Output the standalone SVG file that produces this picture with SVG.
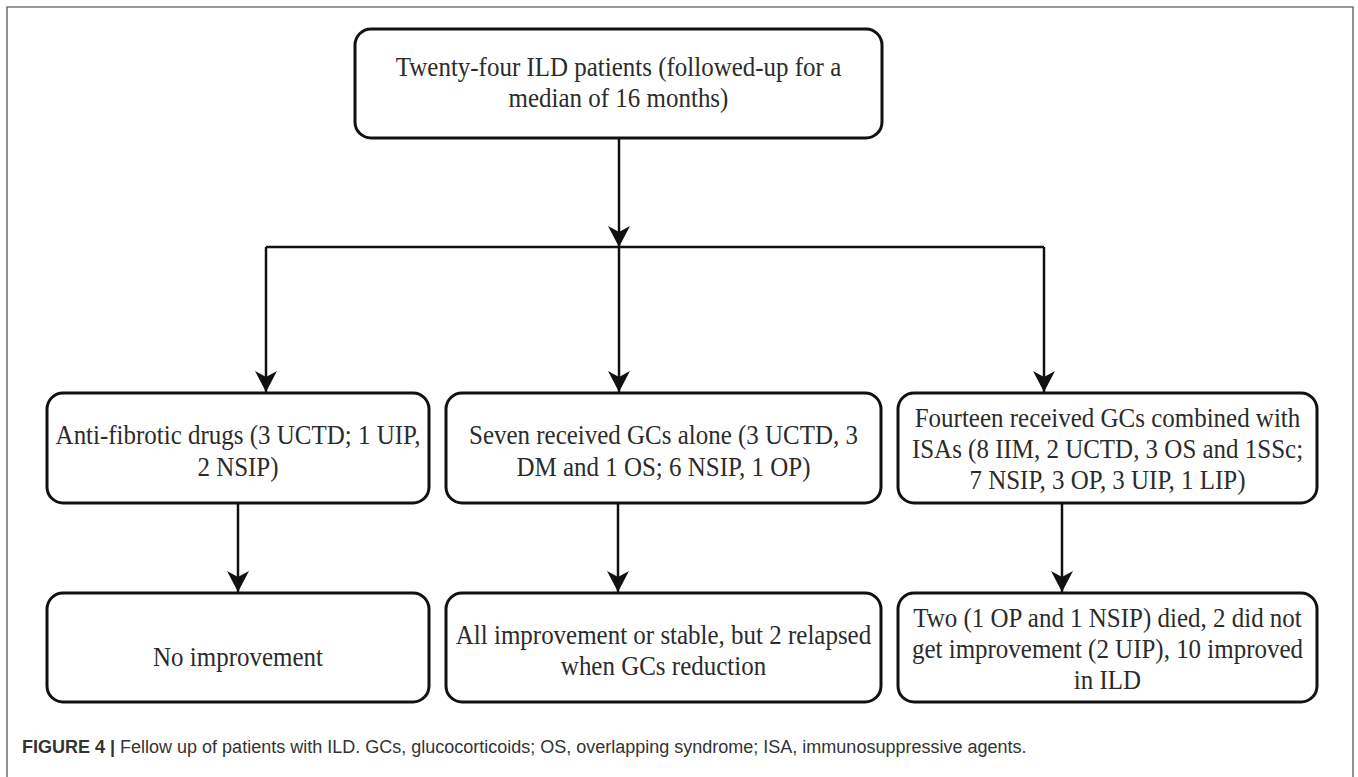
<svg xmlns="http://www.w3.org/2000/svg" width="1358" height="777" viewBox="0 0 1358 777">
<style>
.box{fill:#ffffff;stroke:#111111;stroke-width:3}
.t{font-family:"Liberation Serif","Times New Roman",serif;font-size:27px;fill:#2b2b2b;text-anchor:middle;transform-box:fill-box;transform-origin:center;transform:scaleX(0.925)}
.con{fill:none;stroke:#111111;stroke-width:2.5}
.cap{font-family:"Liberation Sans",Arial,sans-serif;font-size:18px;fill:#333333}
</style>
<defs>
<marker id="ah" viewBox="-21 -12 22 24" markerWidth="22" markerHeight="24" refX="0" refY="0" markerUnits="userSpaceOnUse" orient="auto">
<path d="M0,0 L-21,-11 L-15,0 L-21,11 Z" fill="#111111"/>
</marker>
</defs>
<rect width="1358" height="777" fill="#ffffff"/>
<path d="M7,777 V7 H1353 V777" fill="none" stroke="#777777" stroke-width="1.6"/>
<g id="connectors">
<line class="con" x1="619" y1="139" x2="619" y2="247" marker-end="url(#ah)"/>
<line class="con" x1="266" y1="247" x2="1044" y2="247"/>
<line class="con" x1="266" y1="247" x2="266" y2="392" marker-end="url(#ah)"/>
<line class="con" x1="619" y1="247" x2="619" y2="392" marker-end="url(#ah)"/>
<line class="con" x1="1044" y1="247" x2="1044" y2="392" marker-end="url(#ah)"/>
<line class="con" x1="238" y1="504" x2="238" y2="592" marker-end="url(#ah)"/>
<line class="con" x1="618" y1="504" x2="618" y2="592" marker-end="url(#ah)"/>
<line class="con" x1="1062" y1="504" x2="1062" y2="592" marker-end="url(#ah)"/>
</g>
<g id="n-top">
<rect class="box" x="355" y="29" width="527" height="109" rx="16"/>
<text class="t" x="618.5" y="76">Twenty-four ILD patients (followed-up for a</text>
<text class="t" x="618.5" y="107">median of 16 months)</text>
</g>
<g id="n-antifibrotic">
<rect class="box" x="47" y="393" width="382" height="110" rx="16"/>
<text class="t" x="238" y="444">Anti-fibrotic drugs (3 UCTD; 1 UIP,</text>
<text class="t" x="238" y="476">2 NSIP)</text>
</g>
<g id="n-gcs-alone">
<rect class="box" x="446" y="393" width="435" height="110" rx="16"/>
<text class="t" x="663.5" y="444">Seven received GCs alone (3 UCTD, 3</text>
<text class="t" x="663.5" y="476">DM and 1 OS; 6 NSIP, 1 OP)</text>
</g>
<g id="n-gcs-isa">
<rect class="box" x="898" y="393" width="419" height="110" rx="16"/>
<text class="t" x="1107.5" y="427">Fourteen received GCs combined with</text>
<text class="t" x="1107.5" y="458">ISAs (8 IIM, 2 UCTD, 3 OS and 1SSc;</text>
<text class="t" x="1107.5" y="489">7 NSIP, 3 OP, 3 UIP, 1 LIP)</text>
</g>
<g id="n-no-improvement">
<rect class="box" x="47" y="593" width="382" height="109" rx="16"/>
<text class="t" x="238" y="666">No improvement</text>
</g>
<g id="n-all-improvement">
<rect class="box" x="446" y="593" width="435" height="109" rx="16"/>
<text class="t" x="663.5" y="644">All improvement or stable, but 2 relapsed</text>
<text class="t" x="663.5" y="675">when GCs reduction</text>
</g>
<g id="n-outcome-isa">
<rect class="box" x="898" y="593" width="419" height="109" rx="16"/>
<text class="t" x="1107.5" y="627">Two (1 OP and 1 NSIP) died, 2 did not</text>
<text class="t" x="1107.5" y="658">get improvement (2 UIP), 10 improved</text>
<text class="t" x="1107.5" y="689">in ILD</text>
</g>
<text class="cap" x="22" y="753"><tspan font-weight="bold">FIGURE 4 | </tspan>Fellow up of patients with ILD. GCs, glucocorticoids; OS, overlapping syndrome; ISA, immunosuppressive agents.</text>
</svg>
